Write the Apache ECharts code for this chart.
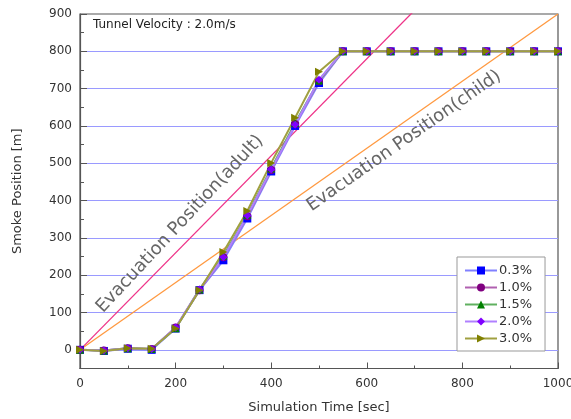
<!DOCTYPE html>
<html>
<head>
<meta charset="utf-8">
<script src="https://cdn.jsdelivr.net/npm/echarts@6/dist/echarts.min.js"></script>
<style>
  html, body { margin: 0; padding: 0; background: #fff; }
  #chart { width: 571px; height: 419px; }
</style>
</head>
<body>
<div id="chart"></div>
<script>
// simulation time (sec)
const times = [0, 50, 100, 150, 200, 250, 300, 350, 400, 450, 500, 550, 600, 650, 700, 750, 800, 850, 900, 950, 1000]

// smoke position (m) per slope
const s03 = [0, -3, 3, 0, 57, 160, 240, 352, 478, 600, 715, 800, 800, 800, 800, 800, 800, 800, 800, 800, 800]
const s10 = [0, -2, 4, 2, 60, 160, 248, 358, 482, 605, 720, 800, 800, 800, 800, 800, 800, 800, 800, 800, 800]
const s15 = [0, -2, 4, 2, 58, 162, 252, 362, 486, 608, 722, 800, 800, 800, 800, 800, 800, 800, 800, 800, 800]
const s20 = [0, -2, 4, 2, 60, 162, 248, 360, 483, 603, 724, 800, 800, 800, 800, 800, 800, 800, 800, 800, 800]
const s30 = [0, -3, 4, 3, 57, 160, 262, 372, 501, 622, 745, 800, 800, 800, 800, 800, 800, 800, 800, 800, 800]

// evacuation positions (adult 1.3 m/s, child 0.9 m/s)
const adultLine = [[0, 0], [1000, 1300]]
const childLine = [[0, 0], [1000, 900]]

const xTicks = [0, 200, 400, 600, 800, 1000]
const yTicks = [0, 100, 200, 300, 400, 500, 600, 700, 800, 900]

const font = 'DejaVu Sans, Verdana, sans-serif'

const toPairs = (ys) => times.map((t, i) => [t, ys[i]])

const smoke = [
  { name: '0.3%', data: s03, symbol: 'rect', rotate: 0, color: '#0000ff', line: '#8080ff' },
  { name: '1.0%', data: s10, symbol: 'circle', rotate: 0, color: '#800080', line: '#b060b0' },
  { name: '1.5%', data: s15, symbol: 'triangle', rotate: 0, color: '#008000', line: '#60b060' },
  { name: '2.0%', data: s20, symbol: 'diamond', rotate: 0, color: '#8000ff', line: '#b080ff' },
  { name: '3.0%', data: s30, symbol: 'triangle', rotate: -90, color: '#808000', line: '#a0a040' }
]

const chart = echarts.init(document.getElementById('chart'), null, { renderer: 'canvas' })

const series = [{
  type: 'line',
  data: adultLine,
  symbol: 'none',
  lineStyle: { color: '#ee3388', width: 1.3 },
  silent: true,
  z: 1
}, {
  type: 'line',
  data: childLine,
  symbol: 'none',
  lineStyle: { color: '#ff9940', width: 1.3 },
  silent: true,
  z: 1
}]

smoke.forEach(s => {
  series.push({
    name: s.name,
    type: 'line',
    data: toPairs(s.data),
    symbol: s.symbol,
    symbolSize: 8,
    symbolRotate: s.rotate,
    itemStyle: { color: s.color },
    lineStyle: { color: s.line, width: 2 },
    z: 3
  })
})

chart.setOption({
  animation: false,
  textStyle: { fontFamily: font },
  grid: [{
    left: 80, right: 13, top: 14, bottom: 50.5,
    outerBoundsMode: 'none',
    show: true, borderColor: '#555', borderWidth: 1.2, backgroundColor: 'transparent'
  }, {
    // decoration grid: same scale, 0..900
    left: 80, right: 13, top: 14, bottom: 69,
    outerBoundsMode: 'none'
  }],
  xAxis: [{
    gridIndex: 0,
    type: 'value',
    min: 0, max: 1000, interval: 200,
    name: 'Simulation Time [sec]',
    nameLocation: 'middle',
    nameGap: 33,
    nameTextStyle: { fontSize: 13, color: '#333' },
    axisLine: { onZero: false, lineStyle: { color: '#555', width: 1.2 } },
    axisTick: { inside: true, length: 6, lineStyle: { color: '#555' } },
    minorTick: { show: true, splitNumber: 2, length: 3, lineStyle: { color: '#555' } },
    axisLabel: {
      margin: 9, fontSize: 12, color: '#333',
      formatter: v => xTicks.includes(v) ? String(v) : ''
    },
    splitLine: { show: false }
  }, {
    gridIndex: 1,
    type: 'value',
    min: 0, max: 1000,
    show: false
  }],
  yAxis: [{
    gridIndex: 0,
    type: 'value',
    min: -50, max: 900, interval: 50,
    name: 'Smoke Position [m]',
    nameLocation: 'middle',
    nameGap: 56,
    nameTextStyle: { fontSize: 13, color: '#333' },
    axisLine: { show: true, onZero: false, lineStyle: { color: '#555', width: 1.2 } },
    axisTick: { show: false },
    axisLabel: { show: false },
    splitLine: { show: false }
  }, {
    gridIndex: 1,
    type: 'value',
    min: 0, max: 900, interval: 100,
    axisLine: { show: false },
    axisTick: { show: true, inside: true, length: 7, lineStyle: { color: '#555' } },
    minorTick: { show: true, splitNumber: 2, length: 4, lineStyle: { color: '#555' } },
    axisLabel: {
      margin: 8, fontSize: 12, color: '#333',
      formatter: v => yTicks.includes(v) ? String(v) : ''
    },
    splitLine: { show: true, showMaxLine: false, lineStyle: { color: '#9a9aff', width: 1.2 } }
  }],
  legend: {
    orient: 'vertical',
    left: 457, top: 257,
    padding: [7, 13, 6, 7],
    itemGap: 4,
    itemWidth: 32,
    itemHeight: 10,
    borderColor: '#999',
    borderWidth: 1,
    backgroundColor: '#fff',
    textStyle: { fontSize: 13, color: '#333', padding: [0, 0, 0, -3] },
    data: smoke.map(s => s.name)
  },
  graphic: [{
    type: 'text',
    left: 93, top: 19,
    style: { text: 'Tunnel Velocity : 2.0m/s', font: '12px ' + font, fill: '#222' }
  }, {
    type: 'text',
    x: 180, y: 224,
    rotation: 47 * Math.PI / 180,
    style: { text: 'Evacuation Position(adult)', font: '18px ' + font, fill: '#666', align: 'center', verticalAlign: 'middle' },
    z: 10
  }, {
    type: 'text',
    x: 404, y: 141,
    rotation: 35 * Math.PI / 180,
    style: { text: 'Evacuation Position(child)', font: '18px ' + font, fill: '#666', align: 'center', verticalAlign: 'middle' },
    z: 10
  }],
  series: series
})
</script>
</body>
</html>
